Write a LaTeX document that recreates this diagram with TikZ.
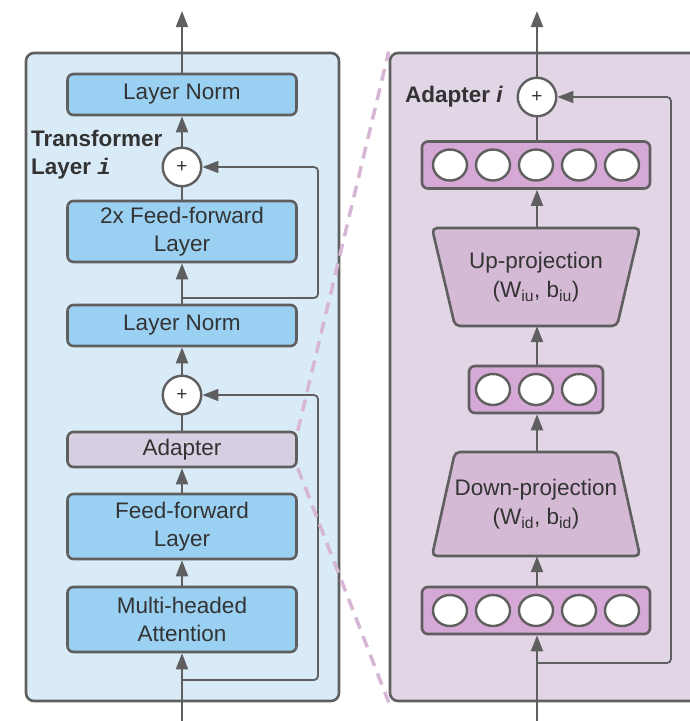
\documentclass[tikz,border=0pt]{standalone}
\usepackage{fontspec}
\setmainfont{Liberation Sans}
\newfontfamily\monofont{Liberation Mono}
\usetikzlibrary{arrows.meta,shapes.geometric}

\definecolor{edge}{HTML}{5F5F5F}
\definecolor{txt}{HTML}{333333}
\definecolor{panelblue}{HTML}{DAEBF8}
\definecolor{boxblue}{HTML}{9AD0F2}
\definecolor{adapterfill}{HTML}{D6CFE1}
\definecolor{panelpurple}{HTML}{E2D5E6}
\definecolor{projfill}{HTML}{D4BAD4}
\definecolor{vecfill}{HTML}{D5A8D5}
\definecolor{zoomcol}{HTML}{D6B6D4}

\tikzset{
  panel/.style={draw=edge, line width=2.6pt, rounded corners=8pt, inner sep=0pt},
  blk/.style={draw=edge, line width=2.6pt, rounded corners=6pt, fill=boxblue,
    minimum width=229pt, inner sep=0pt, align=center, text=txt,
    font=\fontsize{22.5}{28}\selectfont},
  sumnode/.style={circle, draw=edge, fill=white, line width=2.4pt,
    minimum size=38.5pt, inner sep=0pt, text=txt, font=\fontsize{19}{19}\selectfont},
  flow/.style={draw=edge, line width=2pt, -{Triangle[length=16pt,width=12pt]}},
  link/.style={draw=edge, line width=2pt},
  skip/.style={draw=edge, line width=1.8pt, rounded corners=4pt,
    -{Triangle[length=16pt,width=12pt]}},
  vec/.style={draw=edge, fill=vecfill, line width=2.6pt, rounded corners=6pt,
    minimum height=47pt, inner sep=0pt},
  unit/.style={ellipse, draw=edge, fill=white, line width=2.4pt,
    minimum width=34pt, minimum height=31pt, inner sep=0pt},
  proj/.style={draw=edge, fill=projfill, line width=2.6pt, rounded corners=5pt},
  projtext/.style={align=center, text=txt, inner sep=0pt,
    font=\fontsize{22.5}{29}\selectfont},
  zoomline/.style={draw=zoomcol, line width=3.5pt, dash pattern=on 12pt off 8pt},
  tag/.style={text=txt, inner sep=0pt, align=left,
    font=\fontsize{22.5}{28}\selectfont\bfseries},
}

\begin{document}
\begin{tikzpicture}[x=1pt, y=-1pt]
\useasboundingbox (0,0) rectangle (690,721);
\clip (0,0) rectangle (690,721);

% the two panels
\node[panel, fill=panelblue, minimum width=313pt, minimum height=648pt]
  (tpanel) at (182.5,377) {};
\node[panel, fill=panelpurple, minimum width=330pt, minimum height=648pt]
  (apanel) at (555,377) {};

% ---------- transformer layer ----------
\node[blk, minimum height=41pt] (ln1) at (182,94.5) {Layer Norm};
\node[sumnode] (plus1) at (182,167) {+};
\node[blk, minimum height=61pt] (ff2) at (182,231.5) {2x Feed-forward\\Layer};
\node[blk, minimum height=41pt] (ln2) at (182,325.5) {Layer Norm};
\node[sumnode] (plus2) at (182,395) {+};
\node[blk, fill=adapterfill, minimum height=35pt] (adapter) at (182,449.5) {Adapter};
\node[blk, minimum height=65pt] (ff1) at (182,526.5) {Feed-forward\\Layer};
\node[blk, minimum height=65pt] (mha) at (182,619.5) {Multi-headed\\Attention};

\node[tag, anchor=west] (tlabel) at (31,155)
  {Transformer\\Layer {\monofont\bfseries\itshape i}};

\coordinate (inL) at (182,721);
\coordinate (outL) at (182,11);
\coordinate (s1) at (182,680);
\coordinate (s2) at (182,298);

\draw[flow] (inL) -- (mha.south);
\draw[flow] (mha.north) -- (ff1.south);
\draw[flow] (ff1.north) -- (adapter.south);
\draw[link] (adapter.north) -- (plus2.south);
\draw[flow] (plus2.north) -- (ln2.south);
\draw[flow] (ln2.north) -- (ff2.south);
\draw[link] (ff2.north) -- (plus1.south);
\draw[flow] (plus1.north) -- (ln1.south);
\draw[flow] (ln1.north) -- (outL);

\draw[skip] (s1) -- (318,680) -- (318,395) -- (plus2.east);
\draw[skip] (s2) -- (318,298) -- (318,167) -- (plus1.east);

% zoom lines from the adapter block to its detailed view
\draw[zoomline] (adapter.north east) -- (apanel.north west);
\draw[zoomline] (adapter.south east) -- (apanel.south west);

% ---------- adapter ----------
\node[sumnode] (plus3) at (537,97) {+};
\node[tag, anchor=west] (alabel) at (405,97) {Adapter \textit{i}};

\node[vec, minimum width=228pt] (vtop) at (536,165) {};
\foreach \k [count=\n] in {-86,-43,0,43,86}
  \node[unit] (vt\n) at ([xshift=\k pt]vtop.center) {};

% up-projection (wide side on top)
\path[proj] (432,228) -- (640,228) -- (617,326) -- (455,326) -- cycle;
\node[projtext, minimum width=208pt, minimum height=98pt] (up) at (536,277)
  {Up-projection\\(W\textsubscript{iu}, b\textsubscript{iu})};

\node[vec, minimum width=134pt] (vmid) at (536,389.5) {};
\foreach \k [count=\n] in {-43,0,43}
  \node[unit] (vm\n) at ([xshift=\k pt]vmid.center) {};

% down-projection (wide side at the bottom)
\path[proj] (455,452) -- (617,452) -- (640,556) -- (432,556) -- cycle;
\node[projtext, minimum width=208pt, minimum height=104pt] (down) at (536,504)
  {Down-projection\\(W\textsubscript{id}, b\textsubscript{id})};

\node[vec, minimum width=228pt] (vbot) at (536,610.5) {};
\foreach \k [count=\n] in {-86,-43,0,43,86}
  \node[unit] (vb\n) at ([xshift=\k pt]vbot.center) {};

\coordinate (inR) at (537,721);
\coordinate (outR) at (537,11);
\coordinate (s3) at (537,663);

\draw[flow] (inR) -- (vbot.south -| inR);
\draw[flow] (vbot.north -| inR) -- (down.south -| inR);
\draw[flow] (down.north -| inR) -- (vmid.south -| inR);
\draw[flow] (vmid.north -| inR) -- (up.south -| inR);
\draw[flow] (up.north -| inR) -- (vtop.south -| inR);
\draw[link] (vtop.north -| inR) -- (plus3.south);
\draw[flow] (plus3.north) -- (outR);

\draw[skip] (s3) -- (671,663) -- (671,97) -- (plus3.east);
\end{tikzpicture}
\end{document}
